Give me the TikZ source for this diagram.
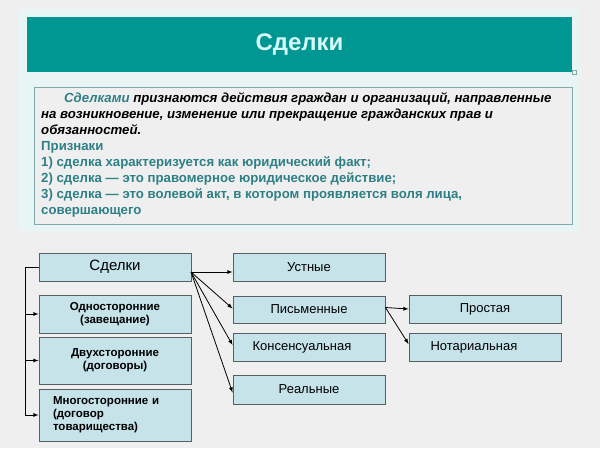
\documentclass[tikz,border=0pt]{standalone}
\usepackage{fontspec}
\setmainfont{Liberation Sans}
\usepackage{tikz}
\definecolor{pagegray}{RGB}{239,239,239}
\definecolor{glowcyan}{RGB}{233,245,245}
\definecolor{bandteal}{RGB}{0,150,146}
\definecolor{titlecyan}{RGB}{214,250,250}
\definecolor{frameteal}{RGB}{128,170,170}
\definecolor{texteal}{RGB}{45,128,133}
\definecolor{boxfill}{RGB}{197,227,233}
\definecolor{boxline}{RGB}{85,95,100}

\begin{document}
\begin{tikzpicture}[>=latex, x=1pt, y=-1pt,
    kind/.style={draw=boxline, fill=boxfill, line width=0.9pt, minimum width=152pt, inner sep=2pt},
    sidekind/.style={kind, font=\fontsize{11.5}{13}\selectfont\bfseries, align=center},
    formkind/.style={kind, font=\fontsize{13}{15}\selectfont}]

    \useasboundingbox (0,0) rectangle (600,448);
    \fill[pagegray] (0,0) rectangle (600,448);
    \fill[glowcyan] (18,9) rectangle (579,231);

    % heading and definition
    \fill[bandteal] (27,17) rectangle (572,72);
    \draw[frameteal, line width=0.5pt] (572,70) rectangle (576,74);
    \draw(299.5,45) node (T) {\fontsize{24}{28}\selectfont\bfseries\color{titlecyan}Сделки};
    \draw[frameteal, fill=pagegray, line width=1pt] (34,87) rectangle (572,224);
    \draw(41,92.5) node[anchor=north west, inner sep=0pt, align=left,
        font=\fontsize{13.2}{16}\selectfont\bfseries] (D) {%
        \hspace*{23pt}\textit{{\color{texteal}Сделками} признаются действия граждан и организаций, направленные}\\
        \textit{на возникновение, изменение или прекращение гражданских прав и}\\
        \textit{обязанностей.}\\
        {\color{texteal}Признаки}\\
        {\color{texteal}1) сделка характеризуется как юридический факт;}\\
        {\color{texteal}2) сделка --- это правомерное юридическое действие;}\\
        {\color{texteal}3) сделка --- это волевой акт, в котором проявляется воля лица,}\\
        {\color{texteal}совершающего}};

    % scheme
    \draw(115,267) node[kind, minimum height=28pt, font=\fontsize{15}{17}\selectfont] (S) {Сделки};
    \draw(115,314) node[sidekind, minimum height=38pt] (O) {Односторонние\\(завещание)};
    \draw(115,360.5) node[sidekind, minimum height=47pt] (Dv) {Двухсторонние\\(договоры)};
    \draw(115,415) node[sidekind, minimum height=52pt, text width=124pt, inner xsep=14pt, align=left] (M) {Многосторонние и\\(договор\\товарищества)};

    \draw(309,267) node[formkind, minimum height=28pt] (U) {Устные};
    \draw(309,309.5) node[formkind, minimum height=27pt] (P) {Письменные};
    \draw(309,347) node[formkind, minimum height=28pt] (K) {\hspace*{-14pt}Консенсуальная};
    \draw(309,389.5) node[formkind, minimum height=29pt] (R) {Реальные};

    \draw(485,309) node[formkind, minimum height=28pt] (Pr) {\raisebox{2pt}{Простая}};
    \draw(485,347) node[formkind, minimum height=28pt] (N) {\hspace*{-22pt}Нотариальная};

    \coordinate (L) at (25,267);
    \coordinate (Sx) at (191,272);
    \draw[line width=0.8pt, ->] (S.west) -- (L) |- (M.west);
    \draw[line width=0.8pt, ->] (L) |- (O.west);
    \draw[line width=0.8pt, ->] (L) |- (Dv.west);

    \draw[line width=0.8pt, ->] (Sx) to ([yshift=-5pt]U.west);
    \draw[line width=0.8pt, ->] (Sx) to ([yshift=1pt]P.west);
    \draw[line width=0.8pt, ->] (Sx) to ([yshift=2pt]K.west);
    \draw[line width=0.8pt, ->] (Sx) to ([yshift=-3pt]R.west);

    \draw[line width=0.8pt, ->] ([yshift=2pt]P.east) to (Pr.west);
    \draw[line width=0.8pt, ->] ([yshift=2pt]P.east) to ([yshift=3pt]N.west);

\end{tikzpicture}
\end{document}
